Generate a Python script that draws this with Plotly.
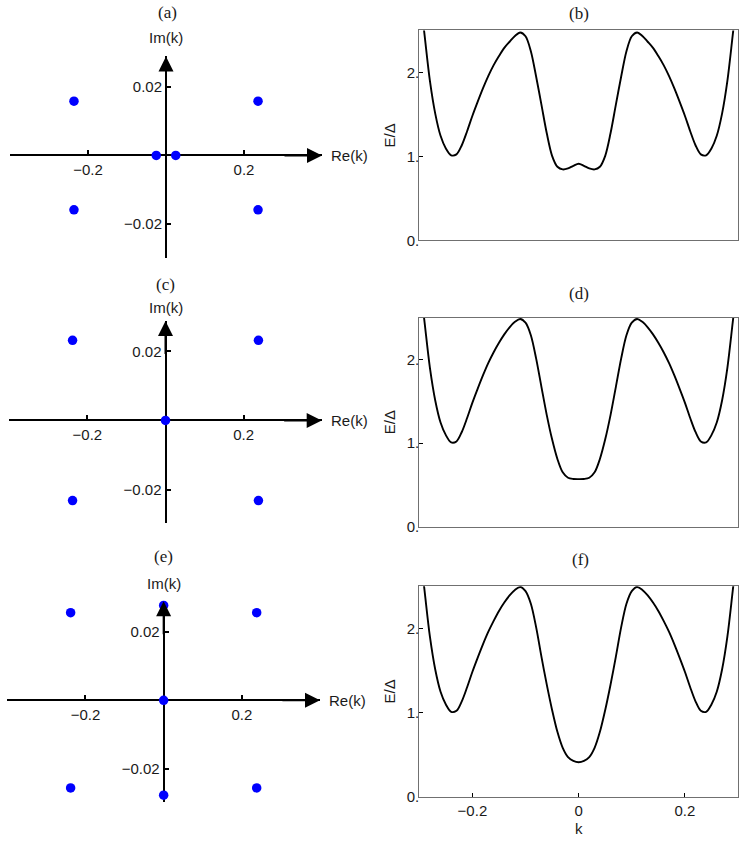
import plotly.graph_objects as go

# ---------------- data ----------------
# left column: roots in complex k plane
RE_A = [-0.236, -0.236, 0.236, 0.236, -0.025, 0.025]
IM_A = [0.0158, -0.0158, 0.0158, -0.0158, 0.0, 0.0]
RE_C = [-0.238, -0.238, 0.238, 0.238, 0.0]
IM_C = [0.0232, -0.0232, 0.0232, -0.0232, 0.0]
RE_E = [-0.238, -0.238, 0.238, 0.238, 0.0, 0.0, 0.0]
IM_E = [0.0255, -0.0255, 0.0255, -0.0255, 0.0276, -0.0276, 0.0]

# right column: spectrum E/Delta vs k
K = [-0.30, -0.29, -0.28, -0.27, -0.26, -0.25, -0.24, -0.23, -0.22, -0.21,
     -0.20, -0.19, -0.18, -0.17, -0.16, -0.15, -0.14, -0.13, -0.12, -0.11,
     -0.10, -0.09, -0.08, -0.07, -0.06, -0.05, -0.04, -0.03, -0.02, -0.01,
     0.00,
     0.01, 0.02, 0.03, 0.04, 0.05, 0.06, 0.07, 0.08, 0.09, 0.10,
     0.11, 0.12, 0.13, 0.14, 0.15, 0.16, 0.17, 0.18, 0.19, 0.20,
     0.21, 0.22, 0.23, 0.24, 0.25, 0.26, 0.27, 0.28, 0.29, 0.30]
E_B = [3.00, 2.44, 1.90, 1.51, 1.246, 1.095, 1.013, 1.024, 1.133, 1.30,
       1.484, 1.652, 1.812, 1.959, 2.087, 2.195, 2.292, 2.365, 2.434, 2.476,
       2.43, 2.253, 1.949, 1.614, 1.275, 1.007, 0.877, 0.845, 0.857, 0.888,
       0.913,
       0.888, 0.857, 0.845, 0.877, 1.007, 1.275, 1.614, 1.949, 2.253, 2.43,
       2.476, 2.434, 2.365, 2.292, 2.195, 2.087, 1.959, 1.812, 1.652, 1.484,
       1.30, 1.133, 1.024, 1.013, 1.095, 1.246, 1.51, 1.90, 2.44, 3.00]
E_D = [3.00, 2.44, 1.90, 1.51, 1.246, 1.095, 1.008, 1.020, 1.133, 1.30,
       1.484, 1.652, 1.812, 1.959, 2.087, 2.200, 2.300, 2.385, 2.450, 2.485,
       2.44, 2.29, 2.01, 1.67, 1.335, 1.045, 0.81, 0.65, 0.585, 0.571,
       0.569,
       0.571, 0.585, 0.65, 0.81, 1.045, 1.335, 1.67, 2.01, 2.29, 2.44,
       2.485, 2.450, 2.385, 2.300, 2.200, 2.087, 1.959, 1.812, 1.652, 1.484,
       1.30, 1.133, 1.020, 1.008, 1.095, 1.246, 1.51, 1.90, 2.44, 3.00]
E_F = [3.00, 2.44, 1.90, 1.51, 1.246, 1.095, 1.008, 1.020, 1.133, 1.30,
       1.484, 1.652, 1.812, 1.959, 2.087, 2.205, 2.305, 2.39, 2.455, 2.49,
       2.44, 2.29, 2.01, 1.66, 1.33, 1.03, 0.77, 0.58, 0.47, 0.425,
       0.41,
       0.425, 0.47, 0.58, 0.77, 1.03, 1.33, 1.66, 2.01, 2.29, 2.44,
       2.49, 2.455, 2.39, 2.305, 2.205, 2.087, 1.959, 1.812, 1.652, 1.484,
       1.30, 1.133, 1.020, 1.008, 1.095, 1.246, 1.51, 1.90, 2.44, 3.00]

LEFT_XTICKS = [-0.2, 0.2]
LEFT_XTEXT = ["\u22120.2", "0.2"]
LEFT_YTICKS = [-0.02, 0.02]
LEFT_YTEXT = ["\u22120.02", "0.02"]
RIGHT_XTICKS = [-0.2, 0.0, 0.2]
RIGHT_XTEXT = ["\u22120.2", "0", "0.2"]
RIGHT_YTICKS = [0, 1, 2]
RIGHT_YTEXT = ["0.", "1.", "2."]
PANEL_LABELS = ["(a)", "(b)", "(c)", "(d)", "(e)", "(f)"]

# ---------------- layout helpers ----------------
W, H = 750, 850
def fx(px):
    return px / W
def fy(py):
    return 1 - py / H

TICKFONT = dict(family="Liberation Sans, Arial, sans-serif", size=15, color="#1a1a1a")
SERIF = dict(family="Liberation Serif, Times New Roman, serif", size=17, color="#1a1a1a")

LX = (-0.4, 0.4)
LY = (-0.0297, 0.0288)
left_boxes = [  # (x0, x1, ytop, ybottom) in pixels
    (10, 322, 57, 260),
    (9.3, 321.7, 324, 528),
    (7.3, 320, 607, 810),
]
right_boxes = [
    (419.3, 738, 30.7, 242.7),
    (419.3, 738, 320.7, 531.7),
    (419.3, 738, 591.7, 804.3),
]
left_data = [(RE_A, IM_A), (RE_C, IM_C), (RE_E, IM_E)]
right_data = [E_B, E_D, E_F]
left_title_pos = [(167, 13), (165, 287), (163, 562)]
im_label_shift = [8, 3, 7]
right_title_pos = [(579, 14), (579, 296), (580, 565)]

fig = go.Figure()
layout = dict(width=W, height=H, margin=dict(l=0, r=0, t=0, b=0),
              paper_bgcolor="white", plot_bgcolor="white", showlegend=False)
annotations = []

n = 1
for i in range(3):
    # ---- left panel ----
    x0, x1, yt, yb = left_boxes[i]
    xd = [fx(x0), fx(x1)]
    yd = [fy(yb), fy(yt)]
    xa, ya = f"xaxis{'' if n == 1 else n}", f"yaxis{'' if n == 1 else n}"
    xr, yr = f"x{'' if n == 1 else n}", f"y{'' if n == 1 else n}"
    xpos = yd[0] + (0 - LY[0]) / (LY[1] - LY[0]) * (yd[1] - yd[0])
    ypos = xd[0] + (0 - LX[0]) / (LX[1] - LX[0]) * (xd[1] - xd[0])
    layout[xa] = dict(domain=xd, range=list(LX), anchor="free", position=xpos,
                      showline=True, linecolor="black", linewidth=2,
                      ticks="inside", ticklen=4, tickwidth=1.5, tickcolor="black",
                      tickvals=LEFT_XTICKS, ticktext=LEFT_XTEXT, tickfont=TICKFONT,
                      showgrid=False, zeroline=False, layer="below traces",
                      ticklabelstandoff=1)
    layout[ya] = dict(domain=yd, range=list(LY), anchor="free", position=ypos,
                      showline=True, linecolor="black", linewidth=2,
                      ticks="inside", ticklen=4, tickwidth=1.5, tickcolor="black",
                      tickvals=LEFT_YTICKS, ticktext=LEFT_YTEXT, tickfont=TICKFONT,
                      showgrid=False, zeroline=False, layer="below traces")
    re, im = left_data[i]
    fig.add_trace(go.Scatter(x=re, y=im, mode="markers", xaxis=xr, yaxis=yr,
                             marker=dict(size=9.5, color="#0000ff"), cliponaxis=False))
    # arrows
    annotations.append(dict(x=LX[1], y=0, ax=LX[1] - 0.1, ay=0, xref=xr, yref=yr,
                            axref=xr, ayref=yr, text="", showarrow=True, arrowhead=2,
                            arrowsize=1.5, arrowwidth=2, arrowcolor="black", standoff=0))
    annotations.append(dict(x=0, y=LY[1], ax=0, ay=LY[1] - 0.01, xref=xr, yref=yr,
                            axref=xr, ayref=yr, text="", showarrow=True, arrowhead=2,
                            arrowsize=1.5, arrowwidth=2, arrowcolor="black", standoff=0))
    annotations.append(dict(x=LX[1], y=0, xref=xr, yref=yr, text="Re(k)", showarrow=False,
                            xanchor="left", yanchor="middle", xshift=7, font=TICKFONT))
    annotations.append(dict(x=0, y=LY[1], xref=xr, yref=yr, text="Im(k)", showarrow=False,
                            xanchor="center", yanchor="bottom", yshift=im_label_shift[i],
                            font=TICKFONT))
    tx, ty = left_title_pos[i]
    annotations.append(dict(x=fx(tx), y=fy(ty), xref="paper", yref="paper",
                            text=PANEL_LABELS[2 * i], showarrow=False,
                            xanchor="center", yanchor="middle", font=SERIF))
    n += 1

    # ---- right panel ----
    x0, x1, yt, yb = right_boxes[i]
    xd = [fx(x0), fx(x1)]
    yd = [fy(yb), fy(yt)]
    xa, ya = f"xaxis{n}", f"yaxis{n}"
    xr, yr = f"x{n}", f"y{n}"
    last = (i == 2)
    layout[xa] = dict(domain=xd, range=[-0.3, 0.3], anchor=yr,
                      showline=True, mirror=True, linecolor="#707070", linewidth=1,
                      ticks="inside" if last else "", ticklen=4, tickcolor="black",
                      tickvals=RIGHT_XTICKS if last else [], ticktext=RIGHT_XTEXT if last else [],
                      showticklabels=last, tickfont=TICKFONT,
                      showgrid=False, zeroline=False)
    layout[ya] = dict(domain=yd, range=[0, 2.5], anchor=xr,
                      showline=True, mirror=True, linecolor="#707070", linewidth=1,
                      ticks="inside", ticklen=4, tickcolor="black",
                      tickvals=RIGHT_YTICKS, ticktext=RIGHT_YTEXT, tickfont=TICKFONT,
                      showgrid=False, zeroline=False, ticklabelstandoff=-4)
    fig.add_trace(go.Scatter(x=K, y=right_data[i], mode="lines", xaxis=xr, yaxis=yr,
                             line=dict(color="black", width=1.9, shape="spline", smoothing=0.9)))
    annotations.append(dict(x=fx(389), y=(yd[0] + yd[1]) / 2, xref="paper", yref="paper",
                            text="E/\u0394", textangle=-90, showarrow=False,
                            xanchor="center", yanchor="middle", font=TICKFONT))
    tx, ty = right_title_pos[i]
    annotations.append(dict(x=fx(tx), y=fy(ty), xref="paper", yref="paper",
                            text=PANEL_LABELS[2 * i + 1], showarrow=False,
                            xanchor="center", yanchor="middle", font=SERIF))
    n += 1

annotations.append(dict(x=fx(579), y=fy(836), xref="paper", yref="paper", text="k",
                        showarrow=False, xanchor="center", yanchor="middle", font=TICKFONT))
layout["annotations"] = annotations
fig.update_layout(**layout)
fig.write_html("out.html", config={"displayModeBar": False},
               post_script="document.body.style.margin='0px';document.body.style.overflow='hidden';")
